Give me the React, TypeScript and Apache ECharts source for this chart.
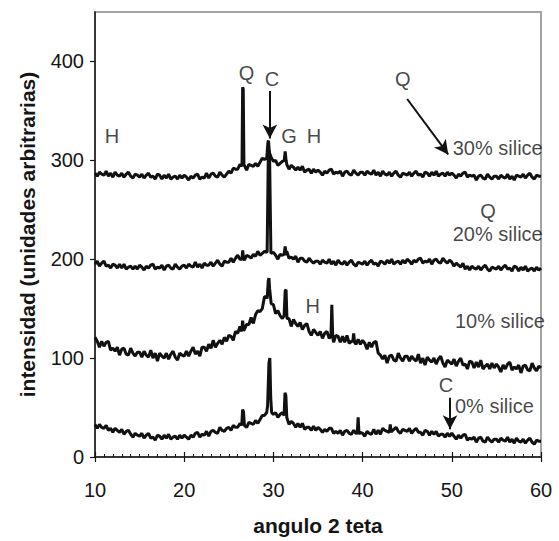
import React, { useEffect, useRef } from "react";
import * as echarts from "echarts";

// 2-theta angles (degrees) of the sampled baseline, every 0.25 degree
const angles = [
  10, 10.25, 10.5, 10.75, 11, 11.25, 11.5, 11.75, 12, 12.25, 12.5, 12.75, 13, 13.25, 13.5, 13.75, 14, 14.25, 14.5, 14.75,
  15, 15.25, 15.5, 15.75, 16, 16.25, 16.5, 16.75, 17, 17.25, 17.5, 17.75, 18, 18.25, 18.5, 18.75, 19, 19.25, 19.5, 19.75,
  20, 20.25, 20.5, 20.75, 21, 21.25, 21.5, 21.75, 22, 22.25, 22.5, 22.75, 23, 23.25, 23.5, 23.75, 24, 24.25, 24.5, 24.75,
  25, 25.25, 25.5, 25.75, 26, 26.25, 26.5, 26.75, 27, 27.25, 27.5, 27.75, 28, 28.25, 28.5, 28.75, 29, 29.25, 29.5, 29.75,
  30, 30.25, 30.5, 30.75, 31, 31.25, 31.5, 31.75, 32, 32.25, 32.5, 32.75, 33, 33.25, 33.5, 33.75, 34, 34.25, 34.5, 34.75,
  35, 35.25, 35.5, 35.75, 36, 36.25, 36.5, 36.75, 37, 37.25, 37.5, 37.75, 38, 38.25, 38.5, 38.75, 39, 39.25, 39.5, 39.75,
  40, 40.25, 40.5, 40.75, 41, 41.25, 41.5, 41.75, 42, 42.25, 42.5, 42.75, 43, 43.25, 43.5, 43.75, 44, 44.25, 44.5, 44.75,
  45, 45.25, 45.5, 45.75, 46, 46.25, 46.5, 46.75, 47, 47.25, 47.5, 47.75, 48, 48.25, 48.5, 48.75, 49, 49.25, 49.5, 49.75,
  50, 50.25, 50.5, 50.75, 51, 51.25, 51.5, 51.75, 52, 52.25, 52.5, 52.75, 53, 53.25, 53.5, 53.75, 54, 54.25, 54.5, 54.75,
  55, 55.25, 55.5, 55.75, 56, 56.25, 56.5, 56.75, 57, 57.25, 57.5, 57.75, 58, 58.25, 58.5, 58.75, 59, 59.25, 59.5, 59.75,
  60,
];

// 30% silice
const silice30 = [
  287, 284, 288, 286, 285, 289, 284, 287, 283, 288, 285, 284, 287, 283, 286, 288, 284, 282, 286, 285,
  283, 286, 282, 285, 287, 283, 284, 281, 286, 285, 281, 285, 282, 286, 281, 283, 284, 281, 285, 282,
  285, 283, 280, 284, 282, 285, 286, 281, 283, 282, 287, 282, 286, 287, 284, 283, 288, 285, 283, 286,
  289, 287, 292, 291, 291, 296, 292, 295, 290, 296, 295, 294, 297, 294, 298, 302, 301, 302, 307, 303,
  299, 300, 295, 297, 299, 296, 296, 291, 295, 293, 290, 293, 290, 294, 288, 290, 291, 287, 291, 288,
  290, 288, 285, 289, 287, 290, 291, 286, 288, 287, 289, 284, 288, 289, 286, 285, 290, 287, 285, 288,
  288, 285, 289, 287, 286, 290, 285, 288, 284, 289, 286, 285, 288, 284, 287, 289, 285, 283, 287, 286,
  285, 288, 284, 287, 289, 285, 286, 283, 288, 287, 284, 288, 285, 289, 284, 286, 287, 284, 288, 285,
  287, 285, 282, 286, 284, 287, 288, 283, 285, 284, 285, 280, 284, 285, 282, 281, 286, 283, 281, 284,
  284, 281, 285, 283, 282, 286, 281, 284, 280, 285, 284, 283, 286, 282, 285, 287, 283, 281, 285, 284,
  284,
];
const peaks30 = [
  [[26.48, 294], [26.55, 374], [26.62, 372], [26.7, 294]],
  [[29.3, 308], [29.38, 318], [29.45, 320], [29.55, 308]],
  [[31.22, 300], [31.32, 309], [31.42, 300]],
];

// 20% silice
const silice20 = [
  195, 198, 193, 196, 198, 193, 194, 191, 195, 194, 191, 195, 191, 195, 190, 192, 193, 190, 193, 190,
  194, 192, 189, 193, 191, 194, 195, 190, 192, 191, 194, 189, 193, 194, 191, 190, 195, 192, 190, 193,
  194, 191, 195, 193, 192, 197, 192, 195, 191, 196, 194, 194, 197, 193, 196, 199, 195, 193, 198, 197,
  197, 201, 197, 201, 204, 200, 201, 199, 204, 203, 201, 205, 203, 208, 204, 206, 208, 207, 214, 206,
  207, 204, 200, 205, 204, 209, 208, 201, 202, 200, 203, 197, 201, 201, 198, 197, 201, 198, 196, 198,
  198, 195, 199, 197, 196, 200, 195, 198, 194, 199, 196, 195, 198, 194, 197, 199, 195, 193, 197, 196,
  195, 198, 194, 197, 199, 195, 196, 193, 198, 197, 195, 199, 196, 200, 195, 197, 198, 195, 199, 196,
  200, 198, 195, 199, 197, 200, 201, 196, 198, 197, 200, 195, 199, 200, 197, 196, 201, 198, 196, 199,
  197, 193, 196, 194, 192, 196, 190, 193, 189, 193, 191, 190, 193, 189, 192, 194, 190, 188, 192, 191,
  190, 193, 189, 192, 194, 190, 191, 188, 193, 192, 188, 192, 189, 193, 188, 190, 191, 188, 192, 189,
  191,
];
const peaks20 = [
  [[26.48, 200], [26.56, 209], [26.64, 201]],
  [[29.3, 208], [29.42, 300], [29.5, 310], [29.58, 300], [29.72, 206]],
  [[31.2, 205], [31.32, 213], [31.45, 204]],
];

// 10% silice
const silice10 = [
  121, 117, 111, 117, 112, 116, 117, 108, 110, 107, 111, 103, 109, 110, 104, 103, 110, 105, 102, 106,
  106, 101, 107, 103, 101, 108, 100, 105, 97, 105, 102, 100, 105, 99, 104, 107, 101, 98, 105, 103,
  102, 107, 102, 107, 111, 104, 107, 102, 111, 111, 107, 114, 110, 118, 111, 115, 118, 114, 121, 117,
  123, 122, 118, 127, 125, 132, 136, 129, 134, 134, 141, 135, 144, 148, 147, 150, 162, 162, 167, 162,
  154, 145, 148, 143, 140, 147, 137, 140, 132, 139, 135, 132, 136, 129, 133, 135, 127, 123, 129, 126,
  123, 127, 120, 125, 127, 120, 121, 116, 123, 122, 116, 122, 116, 123, 115, 117, 119, 114, 119, 114,
  118, 115, 109, 116, 111, 116, 117, 105, 103, 99, 103, 95, 102, 103, 98, 97, 105, 100, 97, 102,
  102, 97, 102, 99, 97, 104, 95, 100, 93, 101, 98, 96, 100, 94, 99, 102, 95, 91, 98, 96,
  94, 99, 92, 97, 100, 93, 94, 89, 97, 96, 90, 96, 91, 98, 89, 92, 94, 89, 95, 90,
  94, 91, 86, 93, 89, 94, 96, 88, 91, 89, 93, 85, 92, 93, 88, 87, 95, 90, 87, 92,
  90,
];
const peaks10 = [
  [[26.45, 127], [26.55, 138], [26.65, 128]],
  [[29.3, 160], [29.42, 178], [29.5, 181], [29.58, 170], [29.75, 155]],
  [[31.2, 143], [31.32, 168], [31.42, 169], [31.52, 140]],
  [[36.45, 122], [36.55, 154], [36.65, 121]],
  [[38.9, 117], [39.0, 125], [39.1, 116]],
];

// 0% silice
const silice0 = [
  33, 29, 33, 30, 29, 32, 27, 29, 25, 29, 27, 25, 28, 23, 26, 27, 23, 20, 24, 22,
  21, 24, 19, 22, 24, 19, 20, 17, 22, 21, 18, 22, 19, 23, 18, 20, 21, 18, 22, 19,
  22, 20, 18, 22, 20, 24, 25, 20, 23, 22, 26, 21, 26, 27, 25, 24, 30, 27, 26, 29,
  30, 27, 32, 30, 30, 34, 30, 33, 30, 35, 34, 33, 37, 34, 38, 42, 42, 45, 56, 47,
  43, 45, 40, 43, 45, 43, 40, 33, 36, 34, 30, 34, 30, 34, 28, 30, 30, 27, 31, 27,
  30, 28, 25, 28, 26, 29, 29, 24, 26, 24, 27, 22, 26, 27, 24, 23, 27, 24, 22, 25,
  24, 21, 26, 24, 23, 28, 23, 27, 23, 29, 27, 26, 30, 26, 28, 30, 26, 24, 28, 27,
  26, 29, 24, 27, 29, 25, 25, 22, 27, 26, 22, 26, 23, 26, 21, 23, 23, 20, 24, 21,
  24, 21, 18, 22, 19, 22, 23, 17, 19, 18, 20, 15, 19, 20, 16, 15, 20, 17, 15, 18,
  18, 15, 19, 17, 16, 20, 15, 18, 14, 19, 16, 15, 18, 14, 17, 19, 15, 13, 17, 16,
  16,
];
const peaks0 = [
  [[26.45, 32], [26.55, 48], [26.65, 46], [26.75, 32]],
  [[29.35, 52], [29.5, 95], [29.6, 100], [29.7, 60], [29.8, 45]],
  [[31.2, 42], [31.3, 65], [31.4, 62], [31.5, 40]],
  [[39.4, 24], [39.5, 40], [39.6, 23]],
  [[43.0, 25], [43.1, 33], [43.2, 25]],
];

const xTicks = [10, 20, 30, 40, 50, 60];
const yTicks = [0, 100, 200, 300, 400];

// annotation letters (phase marks) and sample labels, in data coordinates
const phaseMarks = [
  { text: "H", at: [11.9, 325] },
  { text: "Q", at: [27.0, 388] },
  { text: "C", at: [29.85, 382] },
  { text: "G", at: [31.75, 325] },
  { text: "H", at: [34.55, 325] },
  { text: "Q", at: [44.5, 382] },
  { text: "Q", at: [54.05, 249] },
  { text: "H", at: [34.4, 153] },
  { text: "C", at: [49.35, 73] },
];
const sampleLabels = [
  { text: "30% silice", at: [50.1, 312.6] },
  { text: "20% silice", at: [50.1, 226] },
  { text: "10% silice", at: [50.35, 138] },
  { text: "0% silice", at: [50.35, 52] },
];
const arrows = [
  [[29.6, 370], [29.6, 322]],
  [[45.0, 362], [49.6, 306]],
  [[49.8, 60], [49.8, 28]],
];

function build(base: number[], peaks: number[][][]) {
  const pts: number[][] = angles
    .map((x, i) => [x, base[i]])
    .filter(([x]) => !peaks.some((g) => x >= g[0][0] && x <= g[g.length - 1][0]));
  peaks.forEach((g) => g.forEach((p) => pts.push(p)));
  pts.sort((a, b) => a[0] - b[0]);
  return pts;
}

const FONT = "Liberation Sans, Arial, sans-serif";
const TXT = "#151515";

export default function App() {
  const ref = useRef<HTMLDivElement>(null);
  useEffect(() => {
    if (!ref.current) return;
    const chart = echarts.init(ref.current, undefined, { renderer: "svg" });
    const lineSeries = (name: string, data: number[][]) => ({
      name,
      type: "line",
      data,
      showSymbol: false,
      symbol: "none",
      lineStyle: { color: "#111", width: 3 },
      silent: true,
      z: 3,
    });
    chart.setOption({
      animation: false,
      grid: {
        left: 95,
        right: 18,
        top: 12,
        bottom: 81,
        show: true,
        borderColor: "#a3a3a3",
        borderWidth: 2,
        backgroundColor: "transparent",
      },
      xAxis: [
        {
          type: "value",
          min: 10,
          max: 60,
          interval: 10,
          position: "bottom",
          name: "angulo 2 teta",
          nameLocation: "middle",
          nameGap: 58,
          nameTextStyle: { fontFamily: FONT, fontSize: 21, fontWeight: "bold", color: TXT },
          axisLine: { lineStyle: { color: "#151515", width: 1.5 } },
          axisTick: { show: true, inside: false, length: 5, lineStyle: { color: "#151515", width: 1.2 } },
          axisLabel: {
            fontFamily: FONT,
            fontSize: 20,
            color: TXT,
            margin: 23,
            customValues: xTicks,
          },
          splitLine: { show: false },
        },
        {
          type: "value",
          min: 10,
          max: 60,
          interval: 10,
          position: "bottom",
          axisLine: { show: false },
          axisTick: { show: true, inside: true, length: 5, lineStyle: { color: "#151515", width: 1.2 } },
          minorTick: { show: true, splitNumber: 10, length: 3, lineStyle: { color: "#151515", width: 1 } },
          axisLabel: { show: false },
          splitLine: { show: false },
        },
      ],
      yAxis: {
        type: "value",
        min: 0,
        max: 450,
        interval: 50,
        name: "intensidad (unidades arbitrarias)",
        nameLocation: "middle",
        nameRotate: 90,
        nameGap: 57,
        nameTextStyle: { fontFamily: FONT, fontSize: 21, fontWeight: "bold", color: TXT },
        axisLine: { show: true, lineStyle: { color: "#151515", width: 1.5 } },
        axisTick: { show: true, length: 5, lineStyle: { color: "#151515", width: 1.2 }, customValues: yTicks },
        axisLabel: { fontFamily: FONT, fontSize: 20, color: TXT, margin: 11, customValues: yTicks },
        splitLine: { show: false },
      },
      series: [
        lineSeries("30% silice", build(silice30, peaks30)),
        lineSeries("20% silice", build(silice20, peaks20)),
        lineSeries("10% silice", build(silice10, peaks10)),
        lineSeries("0% silice", build(silice0, peaks0)),
        {
          name: "phases",
          type: "scatter",
          symbolSize: 0,
          silent: true,
          data: phaseMarks.map((m) => ({ value: m.at, name: m.text })),
          label: {
            show: true,
            position: "inside",
            formatter: (p: any) => p.name,
            fontFamily: FONT,
            fontSize: 20,
            lineHeight: 20,
            color: TXT,
          },
          markLine: {
            silent: true,
            symbol: ["none", "arrow"],
            symbolSize: [11, 14],
            label: { show: false },
            lineStyle: { color: "#111", width: 2, type: "solid" },
            data: arrows.map((a) => [{ coord: a[0] }, { coord: a[1] }]),
          },
          z: 5,
        },
        {
          name: "samples",
          type: "scatter",
          symbolSize: 0,
          silent: true,
          data: sampleLabels.map((m) => ({ value: m.at, name: m.text })),
          label: {
            show: true,
            position: "right",
            distance: 0,
            formatter: (p: any) => p.name,
            fontFamily: FONT,
            fontSize: 20,
            lineHeight: 20,
            color: TXT,
          },
          z: 5,
        },
      ],
    });
    return () => chart.dispose();
  }, []);
  return (
    <div
      ref={ref}
      style={{ position: "fixed", left: 0, top: 0, width: 559, height: 541, background: "#fff" }}
    />
  );
}
